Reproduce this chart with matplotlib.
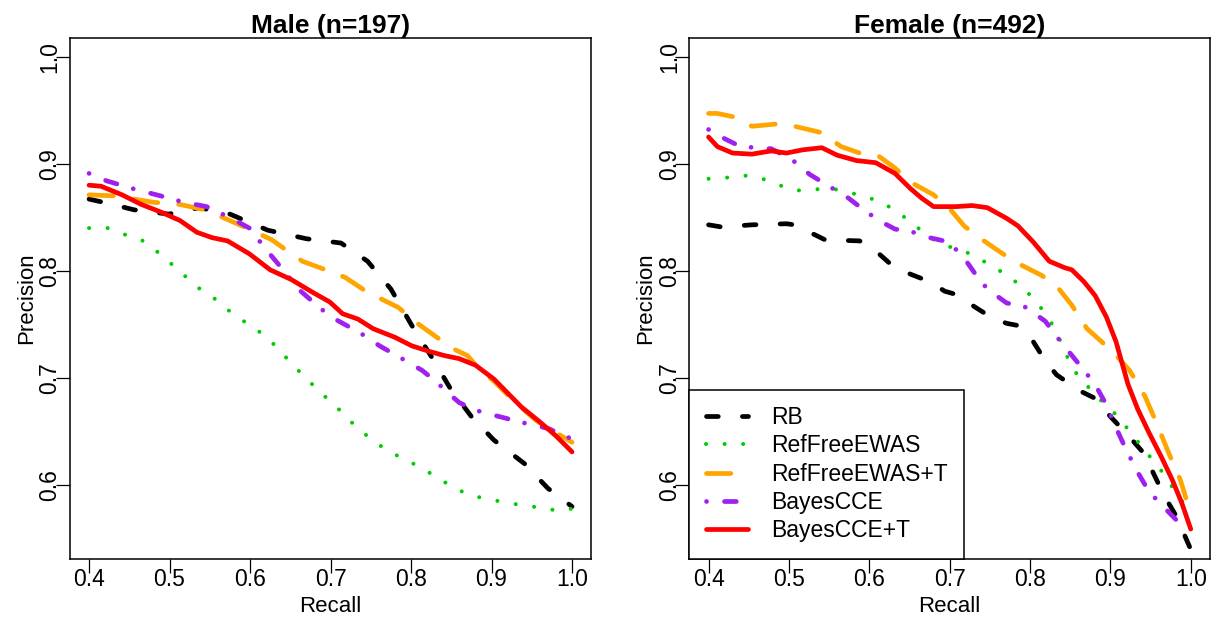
import numpy as np
import matplotlib
matplotlib.use("Agg")
import matplotlib.pyplot as plt

plt.rcParams['font.family'] = ['Liberation Sans', 'DejaVu Sans']

methods = ["RB", "RefFreeEWAS", "RefFreeEWAS+T", "BayesCCE", "BayesCCE+T"]
colors = ["black", "#00cc00", "#ffa500", "#a020f0", "red"]

# Male panel (recall, precision) per method
male_rb_x = [0.400, 0.418, 0.456, 0.499, 0.537, 0.575, 0.622, 0.670, 0.713, 0.746, 0.775,
             0.801, 0.827, 0.849, 0.875, 0.903, 0.941, 0.970, 1.000]
male_rb_y = [0.867, 0.864, 0.857, 0.853, 0.859, 0.853, 0.838, 0.830, 0.826, 0.809, 0.783,
             0.749, 0.718, 0.690, 0.664, 0.642, 0.620, 0.597, 0.580]
male_rf_x = [0.400, 0.423, 0.444, 0.465, 0.483, 0.500, 0.518, 0.534, 0.553, 0.570, 0.588,
             0.607, 0.625, 0.640, 0.656, 0.672, 0.688, 0.705, 0.720, 0.737, 0.754, 0.773,
             0.793, 0.813, 0.833, 0.852, 0.872, 0.894, 0.917, 0.939, 0.961, 0.983, 1.000]
male_rf_y = [0.840, 0.840, 0.834, 0.829, 0.819, 0.808, 0.796, 0.785, 0.776, 0.765, 0.755,
             0.746, 0.735, 0.723, 0.710, 0.698, 0.686, 0.675, 0.663, 0.651, 0.641, 0.631,
             0.624, 0.616, 0.607, 0.598, 0.591, 0.587, 0.584, 0.581, 0.579, 0.576, 0.578]
male_rft_x = [0.400, 0.432, 0.480, 0.513, 0.544, 0.575, 0.599, 0.627, 0.644, 0.665, 0.694,
              0.718, 0.744, 0.765, 0.784, 0.808, 0.832, 0.853, 0.870, 0.884, 0.903, 0.927,
              0.956, 0.980, 1.000]
male_rft_y = [0.871, 0.870, 0.864, 0.862, 0.857, 0.847, 0.839, 0.829, 0.820, 0.809, 0.801,
              0.794, 0.781, 0.773, 0.766, 0.751, 0.738, 0.727, 0.721, 0.709, 0.697, 0.679,
              0.660, 0.649, 0.640]
male_bc_x = [0.400, 0.422, 0.458, 0.489, 0.518, 0.546, 0.577, 0.599, 0.621, 0.641, 0.660,
             0.689, 0.708, 0.737, 0.761, 0.789, 0.814, 0.832, 0.846, 0.860, 0.880, 0.899,
             0.920, 0.946, 0.970, 1.000]
male_bc_y = [0.891, 0.884, 0.876, 0.870, 0.864, 0.860, 0.849, 0.840, 0.819, 0.801, 0.783,
             0.764, 0.754, 0.742, 0.730, 0.718, 0.707, 0.696, 0.686, 0.677, 0.670, 0.666,
             0.662, 0.657, 0.653, 0.643]
male_bct_x = [0.400, 0.415, 0.441, 0.465, 0.489, 0.513, 0.534, 0.553, 0.572, 0.599, 0.625,
              0.651, 0.680, 0.699, 0.715, 0.734, 0.753, 0.780, 0.801, 0.822, 0.841, 0.860,
              0.880, 0.903, 0.937, 0.960, 0.980, 1.000]
male_bct_y = [0.880, 0.879, 0.871, 0.862, 0.855, 0.847, 0.836, 0.831, 0.828, 0.816, 0.801,
              0.792, 0.779, 0.771, 0.760, 0.755, 0.746, 0.738, 0.730, 0.725, 0.721, 0.718,
              0.712, 0.699, 0.673, 0.659, 0.646, 0.631]

# Female panel
fem_rb_x = [0.400, 0.416, 0.454, 0.497, 0.507, 0.526, 0.545, 0.588, 0.612, 0.627, 0.651,
            0.675, 0.694, 0.708, 0.732, 0.751, 0.771, 0.785, 0.804, 0.819, 0.833, 0.862,
            0.881, 0.900, 0.919, 0.939, 0.953, 0.967, 0.982, 1.000]
fem_rb_y = [0.843, 0.841, 0.843, 0.844, 0.843, 0.836, 0.829, 0.828, 0.816, 0.806, 0.797,
            0.790, 0.781, 0.778, 0.766, 0.757, 0.751, 0.749, 0.734, 0.716, 0.703, 0.688,
            0.681, 0.664, 0.649, 0.632, 0.612, 0.590, 0.571, 0.540]
fem_rf_x = [0.400, 0.422, 0.445, 0.467, 0.488, 0.509, 0.531, 0.553, 0.576, 0.597, 0.618,
            0.637, 0.656, 0.672, 0.692, 0.713, 0.734, 0.753, 0.772, 0.790, 0.806, 0.820,
            0.833, 0.840, 0.850, 0.862, 0.879, 0.893, 0.910, 0.924, 0.939, 0.952, 0.966,
            0.979, 0.991, 1.000]
fem_rf_y = [0.886, 0.887, 0.889, 0.886, 0.880, 0.875, 0.876, 0.877, 0.873, 0.869, 0.863,
            0.854, 0.843, 0.833, 0.824, 0.820, 0.813, 0.804, 0.796, 0.785, 0.773, 0.759,
            0.744, 0.730, 0.714, 0.699, 0.687, 0.675, 0.664, 0.650, 0.636, 0.624, 0.611,
            0.596, 0.583, 0.580]
fem_rft_x = [0.400, 0.411, 0.430, 0.454, 0.483, 0.507, 0.541, 0.565, 0.588, 0.612, 0.632,
             0.651, 0.680, 0.699, 0.718, 0.737, 0.766, 0.785, 0.814, 0.833, 0.852, 0.871,
             0.886, 0.905, 0.924, 0.943, 0.958, 0.972, 0.987, 0.994]
fem_rft_y = [0.947, 0.947, 0.944, 0.935, 0.937, 0.935, 0.929, 0.916, 0.910, 0.907, 0.896,
             0.883, 0.871, 0.859, 0.842, 0.831, 0.816, 0.807, 0.796, 0.786, 0.768, 0.746,
             0.736, 0.723, 0.707, 0.683, 0.657, 0.631, 0.605, 0.588]
fem_bc_x = [0.400, 0.421, 0.440, 0.478, 0.502, 0.526, 0.550, 0.574, 0.593, 0.612, 0.632,
            0.651, 0.675, 0.699, 0.718, 0.732, 0.747, 0.771, 0.795, 0.819, 0.838, 0.862,
            0.881, 0.895, 0.905, 0.919, 0.934, 0.948, 0.967, 0.984]
fem_bc_y = [0.932, 0.923, 0.916, 0.914, 0.905, 0.890, 0.879, 0.868, 0.857, 0.847, 0.839,
            0.837, 0.831, 0.827, 0.812, 0.797, 0.783, 0.770, 0.766, 0.753, 0.734, 0.712,
            0.694, 0.675, 0.657, 0.634, 0.612, 0.594, 0.579, 0.566]
fem_bct_x = [0.400, 0.411, 0.430, 0.454, 0.478, 0.497, 0.517, 0.541, 0.560, 0.584, 0.608,
             0.632, 0.651, 0.665, 0.680, 0.708, 0.728, 0.747, 0.771, 0.785, 0.804, 0.824,
             0.843, 0.852, 0.867, 0.881, 0.895, 0.907, 0.922, 0.934, 0.948, 0.963, 0.977,
             0.989, 1.000]
fem_bct_y = [0.925, 0.916, 0.910, 0.909, 0.912, 0.910, 0.913, 0.915, 0.908, 0.903, 0.901,
             0.891, 0.877, 0.868, 0.860, 0.860, 0.861, 0.859, 0.849, 0.842, 0.827, 0.809,
             0.803, 0.801, 0.790, 0.777, 0.757, 0.734, 0.694, 0.671, 0.649, 0.627, 0.605,
             0.583, 0.559]

male = [(male_rb_x, male_rb_y), (male_rf_x, male_rf_y), (male_rft_x, male_rft_y),
        (male_bc_x, male_bc_y), (male_bct_x, male_bct_y)]
female = [(fem_rb_x, fem_rb_y), (fem_rf_x, fem_rf_y), (fem_rft_x, fem_rft_y),
          (fem_bc_x, fem_bc_y), (fem_bct_x, fem_bct_y)]

# R-like line types (dash lengths in multiples of line width)
widths = [3.4, 2.9, 3.4, 3.4, 3.4]
dash_styles = [(2.5, 5.1), (0.01, 4.6), (5.15, 4.4), (0.01, 3.8, 2.5, 3.6), None]

fig = plt.figure(figsize=(12.15, 6.23), dpi=100)
ax1 = fig.add_axes([0.0574, 0.1032, 0.4293, 0.8363])
ax2 = fig.add_axes([0.5673, 0.1032, 0.4286, 0.8363])

for ax, data, title in [(ax1, male, "Male (n=197)"), (ax2, female, "Female (n=492)")]:
    for (x, y), col, w, ds, name in zip(data, colors, widths, dash_styles, methods):
        line, = ax.plot(x, y, color=col, lw=w, label=name,
                        solid_capstyle='round', dash_capstyle='round',
                        solid_joinstyle='round', dash_joinstyle='round')
        if ds is not None:
            line.set_dashes(ds)
    ax.set_xlim(0.376, 1.024)
    ax.set_ylim(0.5313, 1.0177)
    ax.set_xticks(np.arange(0.4, 1.01, 0.1))
    ax.set_xticklabels(["0.4", "0.5", "0.6", "0.7", "0.8", "0.9", "1.0"])
    ax.set_yticks([0.6, 0.7, 0.8, 0.9, 1.0])
    ax.set_yticklabels(["0.6", "0.7", "0.8", "0.9", "1.0"], rotation=90, va='center')
    ax.tick_params(axis='both', direction='out', length=10, width=0.9, labelsize=16.5)
    ax.tick_params(axis='x', pad=-3.0)
    ax.tick_params(axis='y', pad=-3.9)
    ax.set_xlabel("Recall", fontsize=16, labelpad=3.0)
    ax.set_ylabel("Precision", fontsize=16, labelpad=1.0)
    ax.set_title(title, fontsize=19, fontweight='bold', pad=1.5)
    for s in ax.spines.values():
        s.set_linewidth(1.1)

leg = ax2.legend(loc='lower left', bbox_to_anchor=(0, 0), borderaxespad=0,
                 fancybox=False, edgecolor='black', framealpha=1, fontsize=16.5,
                 handlelength=1.85, handletextpad=1.0, labelspacing=0.23,
                 borderpad=0.72)
leg.get_frame().set_linewidth(1.1)

fig.savefig("out.png", dpi=100)
